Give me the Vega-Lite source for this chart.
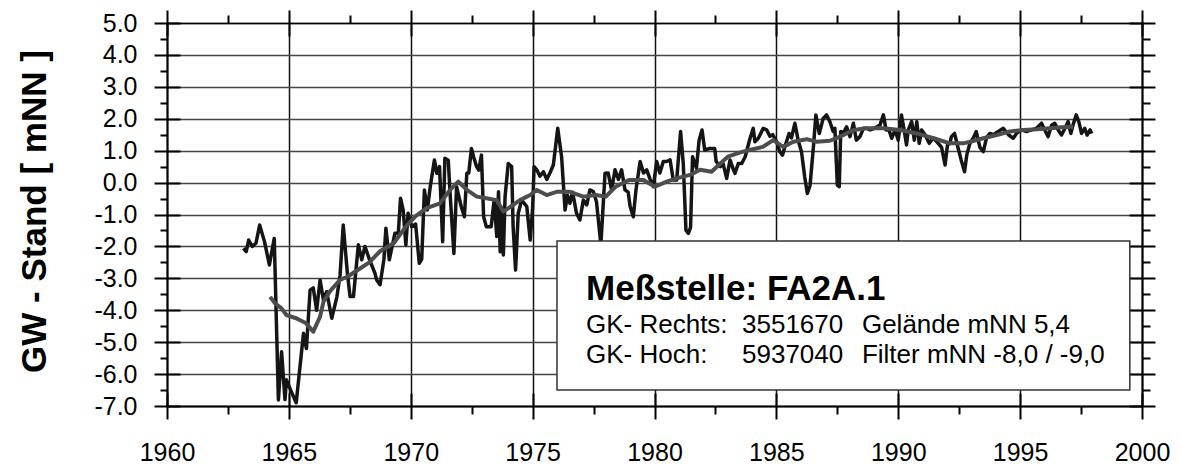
{
  "$schema": "https://vega.github.io/schema/vega-lite/v6.json",
  "width": 975,
  "height": 383,
  "autosize": {"type": "none"},
  "padding": {"left": 167, "top": 23, "right": 39, "bottom": 58},
  "background": "white",
  "config": {
    "view": {"stroke": null},
    "font": "Liberation Sans",
    "axis": {"labelFont": "Liberation Sans", "titleFont": "Liberation Sans", "labelColor": "#000", "tickColor": "#000", "domainColor": "#000"}
  },
  "datasets": {
    "one": [{"k": 1}],
    "raw": [
      {"year": 1963.13, "v": -2.06}, {"year": 1963.25, "v": -2.16}, {"year": 1963.35, "v": -1.8}, {"year": 1963.5, "v": -2.0},
      {"year": 1963.65, "v": -1.9}, {"year": 1963.8, "v": -1.33}, {"year": 1964.0, "v": -1.85}, {"year": 1964.2, "v": -2.58},
      {"year": 1964.4, "v": -1.75}, {"year": 1964.57, "v": -6.81}, {"year": 1964.7, "v": -5.3}, {"year": 1964.84, "v": -6.8},
      {"year": 1964.9, "v": -6.18}, {"year": 1965.1, "v": -6.55}, {"year": 1965.3, "v": -6.9}, {"year": 1965.6, "v": -4.72},
      {"year": 1965.72, "v": -5.2}, {"year": 1965.87, "v": -3.37}, {"year": 1966.0, "v": -3.3}, {"year": 1966.14, "v": -4.0},
      {"year": 1966.28, "v": -3.05}, {"year": 1966.42, "v": -3.68}, {"year": 1966.55, "v": -3.42}, {"year": 1966.76, "v": -4.25},
      {"year": 1966.97, "v": -3.58}, {"year": 1967.1, "v": -2.9}, {"year": 1967.23, "v": -1.33}, {"year": 1967.4, "v": -2.84},
      {"year": 1967.51, "v": -3.57}, {"year": 1967.65, "v": -3.57}, {"year": 1967.85, "v": -1.95}, {"year": 1967.99, "v": -2.42},
      {"year": 1968.12, "v": -2.0}, {"year": 1968.3, "v": -2.4}, {"year": 1968.53, "v": -2.84}, {"year": 1968.6, "v": -3.05},
      {"year": 1968.74, "v": -3.2}, {"year": 1968.9, "v": -2.4}, {"year": 1968.98, "v": -1.43}, {"year": 1969.12, "v": -2.42},
      {"year": 1969.35, "v": -1.59}, {"year": 1969.49, "v": -1.59}, {"year": 1969.58, "v": -0.49}, {"year": 1969.69, "v": -0.86},
      {"year": 1969.8, "v": -1.95}, {"year": 1969.89, "v": -0.96}, {"year": 1970.04, "v": -1.38}, {"year": 1970.2, "v": -1.3},
      {"year": 1970.35, "v": -2.53}, {"year": 1970.45, "v": -2.4}, {"year": 1970.56, "v": -0.23}, {"year": 1970.68, "v": -0.86},
      {"year": 1970.8, "v": -0.13}, {"year": 1970.97, "v": 0.71}, {"year": 1971.07, "v": 0.29}, {"year": 1971.18, "v": 0.5},
      {"year": 1971.31, "v": -1.85}, {"year": 1971.4, "v": 0.76}, {"year": 1971.54, "v": 0.7}, {"year": 1971.61, "v": -0.3},
      {"year": 1971.77, "v": -2.22}, {"year": 1971.88, "v": -0.13}, {"year": 1972.07, "v": -0.75}, {"year": 1972.2, "v": -1.07},
      {"year": 1972.3, "v": 0.29}, {"year": 1972.38, "v": 0.3}, {"year": 1972.49, "v": 1.07}, {"year": 1972.58, "v": 0.8},
      {"year": 1972.7, "v": 0.5}, {"year": 1972.79, "v": 0.39}, {"year": 1972.9, "v": 0.86}, {"year": 1972.99, "v": -1.07},
      {"year": 1973.1, "v": -1.38}, {"year": 1973.3, "v": -1.38}, {"year": 1973.42, "v": -0.55}, {"year": 1973.53, "v": -1.69},
      {"year": 1973.6, "v": -0.29}, {"year": 1973.67, "v": -2.17}, {"year": 1973.74, "v": -0.8}, {"year": 1973.8, "v": -2.27},
      {"year": 1973.87, "v": -0.44}, {"year": 1974.0, "v": 0.6}, {"year": 1974.14, "v": 0.5}, {"year": 1974.2, "v": -1.38},
      {"year": 1974.3, "v": -2.74}, {"year": 1974.41, "v": -0.96}, {"year": 1974.55, "v": -0.55}, {"year": 1974.76, "v": -0.75},
      {"year": 1974.9, "v": -1.8}, {"year": 1975.0, "v": -0.8}, {"year": 1975.06, "v": 0.5}, {"year": 1975.17, "v": 0.4},
      {"year": 1975.3, "v": 0.2}, {"year": 1975.44, "v": 0.34}, {"year": 1975.58, "v": 0.1}, {"year": 1975.71, "v": 0.3},
      {"year": 1975.85, "v": 0.55}, {"year": 1976.03, "v": 1.7}, {"year": 1976.19, "v": 0.8}, {"year": 1976.33, "v": -0.86},
      {"year": 1976.43, "v": -0.4}, {"year": 1976.53, "v": -0.65}, {"year": 1976.64, "v": -0.3}, {"year": 1976.8, "v": -0.96},
      {"year": 1976.94, "v": -1.17}, {"year": 1977.08, "v": -0.55}, {"year": 1977.22, "v": -0.7}, {"year": 1977.35, "v": -0.23},
      {"year": 1977.49, "v": -0.28}, {"year": 1977.62, "v": -0.6}, {"year": 1977.8, "v": -1.95}, {"year": 1977.97, "v": 0.29},
      {"year": 1978.1, "v": 0.3}, {"year": 1978.24, "v": -0.23}, {"year": 1978.38, "v": 0.4}, {"year": 1978.52, "v": 0.1},
      {"year": 1978.65, "v": 0.4}, {"year": 1978.79, "v": -0.23}, {"year": 1978.92, "v": -0.3}, {"year": 1979.0, "v": -0.75},
      {"year": 1979.13, "v": -1.07}, {"year": 1979.24, "v": -0.23}, {"year": 1979.41, "v": 0.66}, {"year": 1979.55, "v": 0.3},
      {"year": 1979.68, "v": 0.4}, {"year": 1979.82, "v": 0.1}, {"year": 1979.95, "v": -0.13}, {"year": 1980.09, "v": 0.66},
      {"year": 1980.22, "v": 0.3}, {"year": 1980.36, "v": 0.66}, {"year": 1980.5, "v": 0.66}, {"year": 1980.64, "v": 0.71},
      {"year": 1980.77, "v": 0.08}, {"year": 1980.91, "v": 0.08}, {"year": 1981.07, "v": 1.6}, {"year": 1981.18, "v": 0.6},
      {"year": 1981.29, "v": -1.49}, {"year": 1981.39, "v": -1.59}, {"year": 1981.48, "v": -1.4}, {"year": 1981.56, "v": 0.81},
      {"year": 1981.72, "v": 0.45}, {"year": 1981.83, "v": 1.33}, {"year": 1981.95, "v": 1.65}, {"year": 1982.06, "v": 1.02},
      {"year": 1982.27, "v": 1.07}, {"year": 1982.47, "v": 1.07}, {"year": 1982.53, "v": 0.66}, {"year": 1982.7, "v": 0.5},
      {"year": 1982.81, "v": 0.6}, {"year": 1982.96, "v": 0.13}, {"year": 1983.1, "v": 0.71}, {"year": 1983.24, "v": 0.4},
      {"year": 1983.3, "v": 0.29}, {"year": 1983.44, "v": 0.6}, {"year": 1983.58, "v": 0.6}, {"year": 1983.72, "v": 0.81},
      {"year": 1983.92, "v": 1.39}, {"year": 1984.05, "v": 1.7}, {"year": 1984.12, "v": 1.28}, {"year": 1984.26, "v": 1.39},
      {"year": 1984.46, "v": 1.7}, {"year": 1984.6, "v": 1.65}, {"year": 1984.74, "v": 1.45}, {"year": 1984.85, "v": 1.5},
      {"year": 1985.01, "v": 1.28}, {"year": 1985.14, "v": 0.97}, {"year": 1985.25, "v": 0.86}, {"year": 1985.38, "v": 1.2},
      {"year": 1985.52, "v": 1.54}, {"year": 1985.62, "v": 1.4}, {"year": 1985.76, "v": 1.86}, {"year": 1985.9, "v": 1.3},
      {"year": 1986.03, "v": 0.97}, {"year": 1986.16, "v": 0.19}, {"year": 1986.27, "v": -0.34}, {"year": 1986.38, "v": -0.1},
      {"year": 1986.52, "v": 1.12}, {"year": 1986.62, "v": 2.12}, {"year": 1986.76, "v": 1.54}, {"year": 1986.85, "v": 1.8},
      {"year": 1986.92, "v": 2.01}, {"year": 1987.06, "v": 2.12}, {"year": 1987.2, "v": 1.9}, {"year": 1987.33, "v": 1.6},
      {"year": 1987.4, "v": 1.7}, {"year": 1987.5, "v": -0.08}, {"year": 1987.58, "v": -0.13}, {"year": 1987.64, "v": 1.6},
      {"year": 1987.75, "v": 1.55}, {"year": 1987.88, "v": 1.75}, {"year": 1988.02, "v": 1.44}, {"year": 1988.16, "v": 1.86},
      {"year": 1988.28, "v": 1.33}, {"year": 1988.43, "v": 1.44}, {"year": 1988.57, "v": 1.7}, {"year": 1988.7, "v": 1.7},
      {"year": 1988.85, "v": 1.65}, {"year": 1989.02, "v": 1.7}, {"year": 1989.25, "v": 1.8}, {"year": 1989.39, "v": 2.12},
      {"year": 1989.5, "v": 1.65}, {"year": 1989.62, "v": 1.65}, {"year": 1989.73, "v": 1.39}, {"year": 1989.87, "v": 1.65},
      {"year": 1990.0, "v": 1.33}, {"year": 1990.13, "v": 2.12}, {"year": 1990.24, "v": 1.65}, {"year": 1990.34, "v": 1.18},
      {"year": 1990.41, "v": 1.65}, {"year": 1990.55, "v": 1.91}, {"year": 1990.66, "v": 1.33}, {"year": 1990.76, "v": 1.91},
      {"year": 1990.86, "v": 1.23}, {"year": 1990.96, "v": 1.65}, {"year": 1991.1, "v": 1.5}, {"year": 1991.27, "v": 1.23},
      {"year": 1991.43, "v": 1.4}, {"year": 1991.64, "v": 1.23}, {"year": 1991.78, "v": 1.1}, {"year": 1991.92, "v": 0.55},
      {"year": 1992.02, "v": 1.18}, {"year": 1992.12, "v": 1.23}, {"year": 1992.18, "v": 1.44}, {"year": 1992.31, "v": 1.54},
      {"year": 1992.45, "v": 1.1}, {"year": 1992.58, "v": 0.71}, {"year": 1992.72, "v": 0.34}, {"year": 1992.81, "v": 0.86},
      {"year": 1992.94, "v": 1.23}, {"year": 1993.08, "v": 1.4}, {"year": 1993.2, "v": 1.6}, {"year": 1993.35, "v": 1.1},
      {"year": 1993.49, "v": 0.97}, {"year": 1993.62, "v": 1.4}, {"year": 1993.76, "v": 1.54}, {"year": 1993.9, "v": 1.5},
      {"year": 1994.1, "v": 1.6}, {"year": 1994.31, "v": 1.7}, {"year": 1994.52, "v": 1.5}, {"year": 1994.72, "v": 1.39},
      {"year": 1994.86, "v": 1.55}, {"year": 1995.06, "v": 1.65}, {"year": 1995.26, "v": 1.6}, {"year": 1995.47, "v": 1.65},
      {"year": 1995.67, "v": 1.7}, {"year": 1995.88, "v": 1.86}, {"year": 1996.01, "v": 1.65}, {"year": 1996.15, "v": 1.44},
      {"year": 1996.29, "v": 1.8}, {"year": 1996.42, "v": 1.86}, {"year": 1996.56, "v": 1.65}, {"year": 1996.7, "v": 1.49},
      {"year": 1996.84, "v": 1.7}, {"year": 1996.97, "v": 1.91}, {"year": 1997.08, "v": 1.54}, {"year": 1997.19, "v": 1.86},
      {"year": 1997.3, "v": 2.12}, {"year": 1997.41, "v": 1.9}, {"year": 1997.52, "v": 1.54}, {"year": 1997.65, "v": 1.7},
      {"year": 1997.75, "v": 1.49}, {"year": 1997.87, "v": 1.65}, {"year": 1997.94, "v": 1.54}
    ],
    "smooth": [
      {"year": 1964.23, "v": -3.58}, {"year": 1964.43, "v": -3.78}, {"year": 1964.7, "v": -3.94}, {"year": 1964.9, "v": -4.15},
      {"year": 1965.3, "v": -4.25}, {"year": 1965.71, "v": -4.41}, {"year": 1966.0, "v": -4.67}, {"year": 1966.28, "v": -4.2},
      {"year": 1966.42, "v": -3.73}, {"year": 1966.69, "v": -3.4}, {"year": 1967.1, "v": -3.05}, {"year": 1967.4, "v": -2.95},
      {"year": 1967.9, "v": -2.7}, {"year": 1968.3, "v": -2.5}, {"year": 1968.74, "v": -2.15}, {"year": 1969.3, "v": -1.9},
      {"year": 1969.83, "v": -1.35}, {"year": 1970.2, "v": -1.05}, {"year": 1970.65, "v": -0.8}, {"year": 1971.2, "v": -0.65},
      {"year": 1971.61, "v": -0.23}, {"year": 1971.95, "v": 0.03}, {"year": 1972.3, "v": -0.23}, {"year": 1972.71, "v": -0.44},
      {"year": 1973.1, "v": -0.49}, {"year": 1973.53, "v": -0.55}, {"year": 1973.8, "v": -0.91}, {"year": 1974.1, "v": -0.75},
      {"year": 1974.48, "v": -0.55}, {"year": 1974.9, "v": -0.39}, {"year": 1975.17, "v": -0.23}, {"year": 1975.58, "v": -0.39},
      {"year": 1975.98, "v": -0.29}, {"year": 1976.53, "v": -0.29}, {"year": 1977.08, "v": -0.44}, {"year": 1977.6, "v": -0.39},
      {"year": 1978.0, "v": -0.44}, {"year": 1978.4, "v": -0.13}, {"year": 1978.95, "v": 0.08}, {"year": 1979.54, "v": 0.08},
      {"year": 1980.02, "v": -0.13}, {"year": 1980.5, "v": 0.03}, {"year": 1980.9, "v": 0.13}, {"year": 1981.46, "v": 0.24},
      {"year": 1981.87, "v": 0.4}, {"year": 1982.34, "v": 0.34}, {"year": 1982.7, "v": 0.6}, {"year": 1983.01, "v": 0.81},
      {"year": 1983.49, "v": 0.94}, {"year": 1983.9, "v": 1.02}, {"year": 1984.45, "v": 1.12}, {"year": 1984.87, "v": 1.33},
      {"year": 1985.28, "v": 1.12}, {"year": 1985.7, "v": 1.28}, {"year": 1986.24, "v": 1.36}, {"year": 1986.65, "v": 1.28},
      {"year": 1987.2, "v": 1.31}, {"year": 1987.61, "v": 1.44}, {"year": 1988.16, "v": 1.65}, {"year": 1988.7, "v": 1.7},
      {"year": 1989.39, "v": 1.7}, {"year": 1990.08, "v": 1.65}, {"year": 1990.76, "v": 1.54}, {"year": 1991.45, "v": 1.39},
      {"year": 1992.12, "v": 1.23}, {"year": 1992.67, "v": 1.23}, {"year": 1992.95, "v": 1.28}, {"year": 1993.49, "v": 1.39},
      {"year": 1994.04, "v": 1.49}, {"year": 1994.58, "v": 1.6}, {"year": 1995.13, "v": 1.65}, {"year": 1995.7, "v": 1.67},
      {"year": 1996.23, "v": 1.7}, {"year": 1996.7, "v": 1.73}, {"year": 1997.18, "v": 1.75}
    ]
  },
  "resolve": {"axis": {"x": "independent", "y": "independent"}},
  "layer": [
    {
      "data": {"name": "raw"},
      "mark": {"type": "line", "color": "#151515", "strokeWidth": 3.5, "strokeJoin": "round"},
      "encoding": {
        "x": {"field": "year", "type": "quantitative", "scale": {"domain": [1960, 2000], "nice": false, "zero": false},
          "axis": {"orient": "bottom", "title": null, "values": [1960, 1965, 1970, 1975, 1980, 1985, 1990, 1995, 2000], "format": "d",
            "labelFontSize": 25, "labelPadding": 21, "tickSize": 13, "tickWidth": 2, "domainWidth": 2,
            "grid": true, "gridColor": "#111", "gridWidth": 1.5, "labelFlush": false, "labelOverlap": false}},
        "y": {"field": "v", "type": "quantitative", "scale": {"domain": [-7, 5], "nice": false, "zero": false},
          "axis": {"orient": "left", "values": [-7, -6, -5, -4, -3, -2, -1, 0, 1, 2, 3, 4, 5],
            "labelExpr": "replace(format(datum.value, '.1f'), '\u2212', '-')",
            "labelFontSize": 25, "labelPadding": 17, "tickSize": 13, "tickWidth": 2, "domainWidth": 2,
            "grid": true, "gridColor": "#444", "gridWidth": 1.5, "labelFlush": false, "labelOverlap": false,
            "title": "GW - Stand [ mNN ]", "titleFontSize": 35, "titleFontWeight": "bold", "titleColor": "#000",
            "titleX": -122, "titleY": 188, "titleAngle": -90, "titleAlign": "center", "titleBaseline": "alphabetic"}}
      }
    },
    {
      "data": {"name": "smooth"},
      "mark": {"type": "point", "opacity": 0},
      "encoding": {
        "x": {"field": "year", "type": "quantitative",
          "axis": {"orient": "top", "title": null, "values": [1960, 1965, 1970, 1975, 1980, 1985, 1990, 1995, 2000],
            "labels": false, "tickSize": 13, "tickWidth": 2, "domainWidth": 1.5, "grid": false}},
        "y": {"field": "v", "type": "quantitative",
          "axis": {"orient": "right", "title": null, "values": [-7, -6, -5, -4, -3, -2, -1, 0, 1, 2, 3, 4, 5],
            "labels": false, "tickSize": 13, "tickWidth": 2, "domainWidth": 2, "grid": false}}
      }
    },
    {
      "data": {"name": "smooth"},
      "mark": {"type": "point", "opacity": 0},
      "encoding": {
        "x": {"field": "year", "type": "quantitative",
          "axis": {"orient": "bottom", "title": null, "values": [1962.5, 1967.5, 1972.5, 1977.5, 1982.5, 1987.5, 1992.5, 1997.5],
            "labels": false, "tickSize": 8, "tickWidth": 2, "domain": false, "grid": false}},
        "y": {"field": "v", "type": "quantitative",
          "axis": {"orient": "left", "title": null, "values": [-6.5, -5.5, -4.5, -3.5, -2.5, -1.5, -0.5, 0.5, 1.5, 2.5, 3.5, 4.5],
            "labels": false, "tickSize": 7, "tickWidth": 2, "domain": false, "grid": false}}
      }
    },
    {
      "data": {"name": "smooth"},
      "mark": {"type": "point", "opacity": 0},
      "encoding": {
        "x": {"field": "year", "type": "quantitative",
          "axis": {"orient": "top", "title": null, "values": [1962.5, 1967.5, 1972.5, 1977.5, 1982.5, 1987.5, 1992.5, 1997.5],
            "labels": false, "tickSize": 8, "tickWidth": 2, "domain": false, "grid": false}},
        "y": {"field": "v", "type": "quantitative",
          "axis": {"orient": "right", "title": null, "values": [-6.5, -5.5, -4.5, -3.5, -2.5, -1.5, -0.5, 0.5, 1.5, 2.5, 3.5, 4.5],
            "labels": false, "tickSize": 8, "tickWidth": 2, "domain": false, "grid": false}}
      }
    },
    {
      "data": {"name": "smooth"},
      "mark": {"type": "point", "opacity": 0},
      "encoding": {
        "x": {"field": "year", "type": "quantitative",
          "axis": {"orient": "bottom", "title": null, "values": [1960, 1965, 1970, 1975, 1980, 1985, 1990, 1995, 2000],
            "labels": false, "tickSize": -13, "tickWidth": 2, "domain": false, "grid": false}},
        "y": {"field": "v", "type": "quantitative",
          "axis": {"orient": "left", "title": null, "values": [-7, -6, -5, -4, -3, -2, -1, 0, 1, 2, 3, 4, 5],
            "labels": false, "tickSize": -13, "tickWidth": 2, "domain": false, "grid": false}}
      }
    },
    {
      "data": {"name": "smooth"},
      "mark": {"type": "point", "opacity": 0},
      "encoding": {
        "x": {"field": "year", "type": "quantitative",
          "axis": {"orient": "top", "title": null, "values": [1960, 1965, 1970, 1975, 1980, 1985, 1990, 1995, 2000],
            "labels": false, "tickSize": -13, "tickWidth": 2, "domain": false, "grid": false}},
        "y": {"field": "v", "type": "quantitative",
          "axis": {"orient": "right", "title": null, "values": [-7, -6, -5, -4, -3, -2, -1, 0, 1, 2, 3, 4, 5],
            "labels": false, "tickSize": -13, "tickWidth": 2, "domain": false, "grid": false}}
      }
    },
    {
      "data": {"name": "smooth"},
      "mark": {"type": "line", "color": "#4d4d4d", "strokeWidth": 4, "strokeJoin": "round"},
      "encoding": {
        "x": {"field": "year", "type": "quantitative", "axis": null},
        "y": {"field": "v", "type": "quantitative", "axis": null}
      }
    },
    {
      "data": {"name": "one"},
      "mark": {"type": "rect", "fill": "white", "stroke": "#333", "strokeWidth": 1.5},
      "encoding": {
        "x": {"datum": 1976.0, "type": "quantitative", "axis": null},
        "x2": {"datum": 1999.5},
        "y": {"datum": -1.83, "type": "quantitative", "axis": null},
        "y2": {"datum": -6.5}
      }
    },
    {
      "data": {"name": "one"},
      "mark": {"type": "text", "align": "left", "baseline": "alphabetic", "fontSize": 35, "fontWeight": "bold", "color": "#000", "font": "Liberation Sans"},
      "encoding": {
        "x": {"datum": 1977.19, "type": "quantitative", "axis": null},
        "y": {"datum": -3.68, "type": "quantitative", "axis": null},
        "text": {"value": "Meßstelle: FA2A.1"}
      }
    },
    {
      "data": {"name": "one"},
      "mark": {"type": "text", "align": "left", "baseline": "alphabetic", "fontSize": 26, "color": "#000", "font": "Liberation Sans"},
      "encoding": {
        "x": {"datum": 1977.19, "type": "quantitative", "axis": null},
        "y": {"datum": -4.71, "type": "quantitative", "axis": null},
        "text": {"value": "GK- Rechts:"}
      }
    },
    {
      "data": {"name": "one"},
      "mark": {"type": "text", "align": "left", "baseline": "alphabetic", "fontSize": 26, "color": "#000", "font": "Liberation Sans"},
      "encoding": {
        "x": {"datum": 1983.59, "type": "quantitative", "axis": null},
        "y": {"datum": -4.71, "type": "quantitative", "axis": null},
        "text": {"value": "3551670"}
      }
    },
    {
      "data": {"name": "one"},
      "mark": {"type": "text", "align": "left", "baseline": "alphabetic", "fontSize": 26, "color": "#000", "font": "Liberation Sans"},
      "encoding": {
        "x": {"datum": 1988.51, "type": "quantitative", "axis": null},
        "y": {"datum": -4.71, "type": "quantitative", "axis": null},
        "text": {"value": "Gelände mNN 5,4"}
      }
    },
    {
      "data": {"name": "one"},
      "mark": {"type": "text", "align": "left", "baseline": "alphabetic", "fontSize": 26, "color": "#000", "font": "Liberation Sans"},
      "encoding": {
        "x": {"datum": 1977.19, "type": "quantitative", "axis": null},
        "y": {"datum": -5.65, "type": "quantitative", "axis": null},
        "text": {"value": "GK- Hoch:"}
      }
    },
    {
      "data": {"name": "one"},
      "mark": {"type": "text", "align": "left", "baseline": "alphabetic", "fontSize": 26, "color": "#000", "font": "Liberation Sans"},
      "encoding": {
        "x": {"datum": 1983.59, "type": "quantitative", "axis": null},
        "y": {"datum": -5.65, "type": "quantitative", "axis": null},
        "text": {"value": "5937040"}
      }
    },
    {
      "data": {"name": "one"},
      "mark": {"type": "text", "align": "left", "baseline": "alphabetic", "fontSize": 26, "color": "#000", "font": "Liberation Sans"},
      "encoding": {
        "x": {"datum": 1988.51, "type": "quantitative", "axis": null},
        "y": {"datum": -5.65, "type": "quantitative", "axis": null},
        "text": {"value": "Filter mNN -8,0 / -9,0"}
      }
    }
  ]
}
